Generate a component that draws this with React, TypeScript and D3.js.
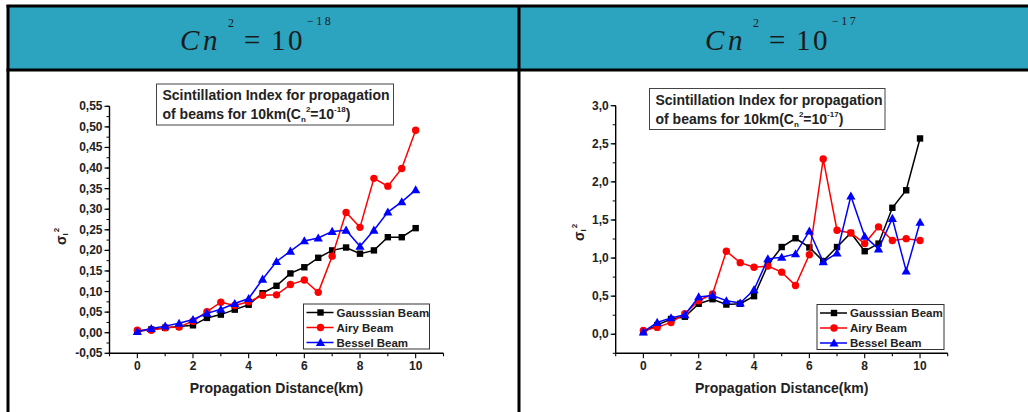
import React from "react";
import * as d3 from "d3";

// Propagation distance (km), sampled every 0.5 km
const distances = [0, 0.5, 1, 1.5, 2, 2.5, 3, 3.5, 4, 4.5, 5, 5.5, 6, 6.5, 7, 7.5, 8, 8.5, 9, 9.5, 10];

// Cn^2 = 1e-18
const gaussian18 = [0.003, 0.008, 0.012, 0.015, 0.018, 0.036, 0.044, 0.056, 0.068, 0.096, 0.114, 0.144, 0.159, 0.182, 0.2, 0.207, 0.192, 0.2, 0.232, 0.232, 0.254];
const airy18 = [0.006, 0.006, 0.012, 0.014, 0.028, 0.051, 0.074, 0.066, 0.075, 0.091, 0.092, 0.117, 0.128, 0.098, 0.186, 0.292, 0.256, 0.375, 0.356, 0.399, 0.492];
const bessel18 = [0.003, 0.01, 0.016, 0.023, 0.032, 0.047, 0.057, 0.071, 0.083, 0.13, 0.173, 0.198, 0.223, 0.23, 0.246, 0.249, 0.21, 0.249, 0.293, 0.318, 0.347];

// Cn^2 = 1e-17
const gaussian17 = [0.03, 0.12, 0.2, 0.23, 0.4, 0.46, 0.39, 0.4, 0.5, 0.91, 1.145, 1.26, 1.14, 0.96, 1.145, 1.33, 1.09, 1.19, 1.66, 1.89, 2.57];
const airy17 = [0.05, 0.09, 0.155, 0.27, 0.44, 0.53, 1.09, 0.94, 0.88, 0.895, 0.815, 0.64, 1.045, 2.3, 1.365, 1.33, 1.19, 1.41, 1.23, 1.255, 1.23];
const bessel17 = [0.03, 0.155, 0.215, 0.255, 0.49, 0.51, 0.44, 0.41, 0.585, 0.99, 1.01, 1.055, 1.355, 0.95, 1.065, 1.815, 1.285, 1.12, 1.52, 0.83, 1.47];

const seriesNames = ["Gausssian Beam", "Airy Beam", "Bessel Beam"];
const seriesColors = ["#000000", "#ff0000", "#0000ff"];
const seriesMarkers = ["square", "circle", "triangle"];

const xTickLabels = [0, 2, 4, 6, 8, 10];
const yTicks18 = [-0.05, 0, 0.05, 0.1, 0.15, 0.2, 0.25, 0.3, 0.35, 0.4, 0.45, 0.5, 0.55];
const yTicks17 = [0, 0.5, 1, 1.5, 2, 2.5, 3];

const FONT = "Liberation Sans, Arial, Helvetica, sans-serif";
const SERIF = "Liberation Serif, Times New Roman, serif";
const HEADER_FILL = "#2ca3bf";

function Marker({ kind, x, y, color }: { kind: string; x: number; y: number; color: string }) {
  if (kind === "square") return <rect x={x - 3.2} y={y - 3.2} width={6.4} height={6.4} fill={color} />;
  if (kind === "circle") return <circle cx={x} cy={y} r={3.7} fill={color} />;
  const s = 4.6;
  return <path d={`M${x},${y - s} L${x + s},${y + s * 0.75} L${x - s},${y + s * 0.75} Z`} fill={color} />;
}

function fmt(v: number, digits: number) {
  return v.toFixed(digits).replace(".", ",");
}

type PanelProps = {
  xRange: [number, number];
  yDomain: [number, number];
  yRange: [number, number];
  yTicks: number[];
  yMinorStep: number;
  digits: number;
  series: number[][];
  titleBox: { x: number; y: number; w: number; h: number };
  exponent: string;
  legend: { x: number; y: number; w: number; h: number };
  yLabelPos: [number, number];
};

function Panel(p: PanelProps) {
  const x = d3.scaleLinear().domain([-1, 11]).range(p.xRange);
  const y = d3.scaleLinear().domain(p.yDomain).range(p.yRange);
  const x0 = p.xRange[0];
  const yb = p.yRange[0];
  const line = d3
    .line<number>()
    .x((_, i) => x(distances[i]))
    .y((d) => y(d));

  const minorY: number[] = [];
  for (let v = p.yDomain[0]; v <= p.yDomain[1] + 1e-9; v += p.yMinorStep) minorY.push(+v.toFixed(4));
  const xAllTicks = d3.range(-1, 12, 1);

  const t = p.titleBox;
  const lg = p.legend;
  return (
    <g>
      {/* axes */}
      <line x1={x0} x2={x0} y1={p.yRange[1]} y2={yb} stroke="#000" strokeWidth={1.4} />
      <line x1={x0} x2={p.xRange[1]} y1={yb} y2={yb} stroke="#000" strokeWidth={1.4} />
      {minorY.map((v) => (
        <line key={"ym" + v} x1={x0} x2={x0 - 3} y1={y(v)} y2={y(v)} stroke="#000" strokeWidth={1} />
      ))}
      {p.yTicks.map((v) => (
        <g key={"y" + v}>
          <line x1={x0} x2={x0 - 5} y1={y(v)} y2={y(v)} stroke="#000" strokeWidth={1.2} />
          <text x={x0 - 7} y={y(v) + 4} textAnchor="end" fontFamily={FONT} fontWeight="bold" fontSize={12} fill="#222">
            {fmt(v, p.digits)}
          </text>
        </g>
      ))}
      {xAllTicks.map((v) => (
        <line key={"xt" + v} x1={x(v)} x2={x(v)} y1={yb} y2={yb + (v % 2 === 0 ? 5 : 3)} stroke="#000" strokeWidth={1.1} />
      ))}
      {xTickLabels.map((v) => (
        <text key={"xl" + v} x={x(v)} y={yb + 17} textAnchor="middle" fontFamily={FONT} fontWeight="bold" fontSize={12} fill="#222">
          {v}
        </text>
      ))}
      <text x={(x(-1) + x(11)) / 2} y={yb + 40} textAnchor="middle" fontFamily={FONT} fontWeight="bold" fontSize={14} fill="#222">
        Propagation Distance(km)
      </text>
      <text
        transform={`translate(${p.yLabelPos[0]},${p.yLabelPos[1]}) rotate(-90)`}
        fontFamily={FONT}
        fontWeight="bold"
        fontSize={14}
        fill="#222"
      >
        <tspan x={-5}>σ</tspan>
        <tspan fontSize={8} dy={2}>I</tspan>
        <tspan fontSize={8} dy={-9} dx={1}>2</tspan>
      </text>

      {/* series */}
      {p.series.map((vals, si) => (
        <g key={"s" + si}>
          <path d={line(vals) || ""} fill="none" stroke={seriesColors[si]} strokeWidth={1.5} />
          {vals.map((v, i) => (
            <Marker key={i} kind={seriesMarkers[si]} x={x(distances[i])} y={y(v)} color={seriesColors[si]} />
          ))}
        </g>
      ))}

      {/* title box */}
      <rect x={t.x} y={t.y} width={t.w} height={t.h} fill="#fff" stroke="#444" strokeWidth={1} />
      <text x={t.x + 6} y={t.y + 16} fontFamily={FONT} fontWeight="bold" fontSize={14} fill="#222">
        Scintillation Index for propagation
      </text>
      <text x={t.x + 6} y={t.y + 35} fontFamily={FONT} fontWeight="bold" fontSize={14} fill="#222">
        <tspan>of beams for 10km(C</tspan>
        <tspan fontSize={8} dy={3}>n</tspan>
        <tspan fontSize={8} dy={-10}>2</tspan>
        <tspan dy={7}>=10</tspan>
        <tspan fontSize={8} dy={-7}>{p.exponent}</tspan>
        <tspan dy={7}>)</tspan>
      </text>

      {/* legend */}
      <rect x={lg.x} y={lg.y} width={lg.w} height={lg.h} fill="#fff" stroke="#333" strokeWidth={1} />
      {seriesNames.map((name, si) => {
        const cy = lg.y + 8.5 + si * 15;
        return (
          <g key={name}>
            <line x1={lg.x + 3} x2={lg.x + 30} y1={cy} y2={cy} stroke={seriesColors[si]} strokeWidth={1.5} />
            <Marker kind={seriesMarkers[si]} x={lg.x + 17} y={cy} color={seriesColors[si]} />
            <text x={lg.x + 33} y={cy + 4} fontFamily={FONT} fontWeight="bold" fontSize={11.5} fill="#222">
              {name}
            </text>
          </g>
        );
      })}
    </g>
  );
}

function Formula({ x0, exp }: { x0: number; exp: string }) {
  const main = { fontFamily: SERIF, fontSize: 29, fill: "#1a1a1a" } as const;
  const sup = { fontFamily: SERIF, fontSize: 12, fill: "#1a1a1a" } as const;
  return (
    <g>
      <text x={x0} y={50} {...main} fontStyle="italic">C</text>
      <text x={x0 + 23} y={50} {...main} fontStyle="italic">n</text>
      <text x={x0 + 48} y={27} {...sup}>2</text>
      <text x={x0 + 64} y={50} {...main}>=</text>
      <text x={x0 + 91} y={50} {...main}>1</text>
      <text x={x0 + 108} y={50} {...main}>0</text>
      <text x={x0 + 127} y={25} {...sup} letterSpacing={2.5}>{exp}</text>
    </g>
  );
}

export default function App() {
  return (
    <svg width={1028} height={412} style={{ position: "absolute", left: 0, top: 0, background: "#fff" }}>
      <rect x={0} y={0} width={1028} height={412} fill="#fff" />
      {/* header row */}
      <rect x={8} y={6} width={1030} height={64} fill={HEADER_FILL} />
      <line x1={6.5} x2={1028} y1={6} y2={6} stroke="#000" strokeWidth={3} />
      <line x1={6.5} x2={1028} y1={70} y2={70} stroke="#000" strokeWidth={3} />
      <line x1={8} x2={8} y1={5} y2={412} stroke="#000" strokeWidth={3} />
      <line x1={519} x2={519} y1={5} y2={412} stroke="#000" strokeWidth={3} />
      <Formula x0={180} exp="−18" />
      <Formula x0={705} exp="−17" />

      <Panel
        xRange={[109.5, 443.5]}
        yDomain={[-0.05, 0.55]}
        yRange={[353.3, 106.3]}
        yTicks={yTicks18}
        yMinorStep={0.025}
        digits={2}
        series={[gaussian18, airy18, bessel18]}
        titleBox={{ x: 156.5, y: 84, w: 237, h: 41 }}
        exponent="-18"
        legend={{ x: 303.5, y: 304, w: 126, h: 45 }}
        yLabelPos={[66, 240]}
      />
      <Panel
        xRange={[615.7, 947.7]}
        yDomain={[-0.25, 3.0]}
        yRange={[353.3, 105.7]}
        yTicks={yTicks17}
        yMinorStep={0.25}
        digits={1}
        series={[gaussian17, airy17, bessel17]}
        titleBox={{ x: 649.5, y: 88.5, w: 235.5, h: 41 }}
        exponent="-17"
        legend={{ x: 817, y: 304.5, w: 127, h: 45 }}
        yLabelPos={[584, 236]}
      />
    </svg>
  );
}
